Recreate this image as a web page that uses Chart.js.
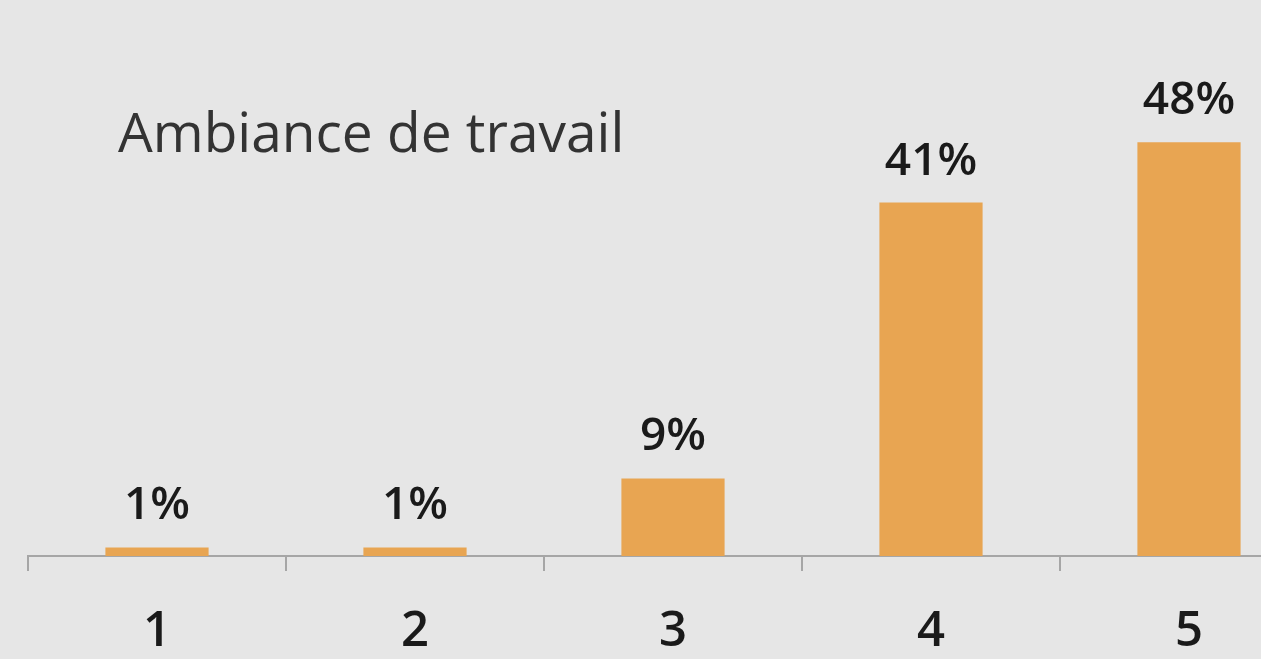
<!DOCTYPE html>
<html>
<head>
<meta charset="utf-8">
<script src="https://cdn.jsdelivr.net/npm/chart.js@4"></script>
<style>
  html, body { margin: 0; padding: 0; background: #e6e6e6; overflow: hidden; }
  canvas { display: block; }
</style>
</head>
<body>
<canvas id="chart" width="1320" height="659"></canvas>
<script>
const categories = ['1', '2', '3', '4', '5'];
const percentValues = [1, 1, 9, 41, 48];
const chartTitle = 'Ambiance de travail';

// value labels above each bar
const valueLabels = {
  id: 'valueLabels',
  afterDatasetsDraw(chart) {
    const { ctx } = chart;
    const meta = chart.getDatasetMeta(0);
    ctx.save();
    ctx.font = '600 46px "Open Sans"';
    ctx.fillStyle = '#1a1a1a';
    ctx.textAlign = 'center';
    ctx.textBaseline = 'alphabetic';
    meta.data.forEach((bar, i) => {
      ctx.fillText(percentValues[i] + '%', bar.x, bar.y - 28);
    });
    ctx.restore();
  }
};

// title sits inside the plot, top-left
const insideTitle = {
  id: 'insideTitle',
  afterDraw(chart) {
    const { ctx, chartArea } = chart;
    ctx.save();
    ctx.font = '400 55px "Open Sans"';
    ctx.fillStyle = '#333333';
    ctx.textAlign = 'left';
    ctx.textBaseline = 'alphabetic';
    ctx.fillText(chartTitle, chartArea.left + 90, 152);
    ctx.restore();
  }
};

new Chart(document.getElementById('chart'), {
  type: 'bar',
  data: {
    labels: categories,
    datasets: [{
      data: percentValues,
      backgroundColor: '#e8a552',
      borderWidth: 0,
      barPercentage: 0.4,
      categoryPercentage: 1
    }]
  },
  options: {
    responsive: false,
    animation: false,
    devicePixelRatio: 1,
    layout: { padding: { left: 28, right: 2, top: 0, bottom: 0 } },
    plugins: {
      legend: { display: false },
      tooltip: { enabled: false }
    },
    scales: {
      x: {
        offset: true,
        afterFit(axis) { axis.height = 103; },
        border: { display: true, color: '#a6a6a6', width: 2 },
        grid: {
          display: true,
          offset: true,
          drawOnChartArea: false,
          drawTicks: true,
          tickLength: 15,
          color: '#a6a6a6',
          lineWidth: 2
        },
        ticks: {
          color: '#1a1a1a',
          font: { family: 'Open Sans', size: 49, weight: '600' },
          padding: 32
        }
      },
      y: {
        display: false,
        min: 0,
        max: 64.5
      }
    }
  },
  plugins: [valueLabels, insideTitle]
});
</script>
</body>
</html>
